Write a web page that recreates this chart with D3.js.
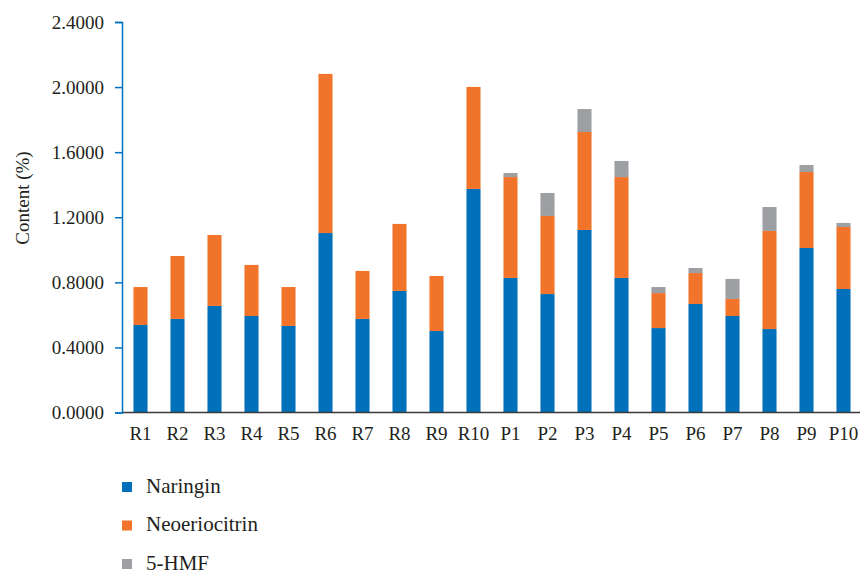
<!DOCTYPE html>
<html>
<head>
<meta charset="utf-8">
<script src="https://cdn.jsdelivr.net/npm/d3@7"></script>
<style>
  html, body { margin: 0; padding: 0; background: #ffffff; }
  svg { display: block; font-family: "Liberation Serif", "DejaVu Serif", serif; }
</style>
</head>
<body>
<svg id="chart" width="860" height="571"></svg>
<script>
// Sample labels (R = raw, P = processed)
const categories = ["R1","R2","R3","R4","R5","R6","R7","R8","R9","R10",
                    "P1","P2","P3","P4","P5","P6","P7","P8","P9","P10"];

// Content (%) of each component per sample
const naringin      = [0.538,0.575,0.655,0.593,0.532,1.103,0.575,0.747,0.501,1.374,
                       0.827,0.728,1.122,0.827,0.519,0.667,0.593,0.513,1.011,0.759];
const neoeriocitrin = [0.233,0.387,0.436,0.314,0.239,0.978,0.295,0.412,0.338,0.627,
                       0.620,0.480,0.602,0.620,0.215,0.190,0.105,0.603,0.467,0.381];
const hmf           = [0,0,0,0,0,0,0,0,0,0,
                       0.025,0.141,0.141,0.099,0.037,0.031,0.123,0.147,0.043,0.025];

const seriesNames = ["Naringin", "Neoeriocitrin", "5-HMF"];
const seriesColors = ["#0070bb", "#f2732a", "#9d9fa2"];
const yTicks = [0, 0.4, 0.8, 1.2, 1.6, 2.0, 2.4];

const rows = categories.map((c, i) => ({
  cat: c,
  "Naringin": naringin[i],
  "Neoeriocitrin": neoeriocitrin[i],
  "5-HMF": hmf[i]
}));

const svg = d3.select("#chart");
const margin = { left: 122, right: 0, top: 22, bottom: 158.5 };
const W = 860, H = 571;
const textColor = "#231f20";

const x = d3.scaleBand()
  .domain(categories)
  .range([margin.left, margin.left + categories.length * 37])
  .paddingInner(0.62)
  .paddingOuter(0.31);

const y = d3.scaleLinear()
  .domain([0, 2.4])
  .range([H - margin.bottom, margin.top]);

const stack = d3.stack().keys(seriesNames);
const stacked = stack(rows);

// Stacked bars
svg.append("g")
  .selectAll("g")
  .data(stacked)
  .join("g")
  .attr("fill", (d, i) => seriesColors[i])
  .selectAll("rect")
  .data(d => d)
  .join("rect")
  .attr("x", d => x(d.data.cat))
  .attr("width", x.bandwidth())
  .attr("y", d => y(d[1]))
  .attr("height", d => Math.max(0, y(d[0]) - y(d[1])));

// X axis baseline
svg.append("line")
  .attr("x1", margin.left).attr("x2", W)
  .attr("y1", y(0)).attr("y2", y(0))
  .attr("stroke", "#3a3a3a").attr("stroke-width", 1.5);

// X labels
svg.append("g")
  .selectAll("text")
  .data(categories)
  .join("text")
  .attr("x", d => x(d) + x.bandwidth() / 2)
  .attr("y", 440)
  .attr("text-anchor", "middle")
  .attr("font-size", 19)
  .attr("fill", textColor)
  .text(d => d);

// Y axis
const yAxis = d3.axisLeft(y)
  .tickValues(yTicks)
  .tickSize(7)
  .tickPadding(11)
  .tickFormat(d3.format(".4f"));

const gy = svg.append("g")
  .attr("transform", `translate(${margin.left},0)`)
  .call(yAxis);
gy.select(".domain").attr("stroke", "#0070c0").attr("stroke-width", 1.5);
gy.selectAll(".tick line").attr("stroke", "#0070c0").attr("stroke-width", 1.5);
gy.selectAll(".tick text")
  .attr("font-size", 19)
  .attr("font-family", "Liberation Serif, DejaVu Serif, serif")
  .attr("fill", textColor);

// Y axis title
svg.append("text")
  .attr("transform", "translate(29,198) rotate(-90)")
  .attr("text-anchor", "middle")
  .attr("font-size", 19)
  .attr("fill", textColor)
  .text("Content (%)");

// Legend
const legend = svg.append("g")
  .selectAll("g")
  .data(seriesNames)
  .join("g")
  .attr("transform", (d, i) => `translate(122,${482 + i * 38.5})`);
legend.append("rect")
  .attr("width", 10).attr("height", 10)
  .attr("fill", (d, i) => seriesColors[i]);
legend.append("text")
  .attr("x", 24).attr("y", 10.5)
  .attr("font-size", 21)
  .attr("fill", textColor)
  .text(d => d);
</script>
</body>
</html>
